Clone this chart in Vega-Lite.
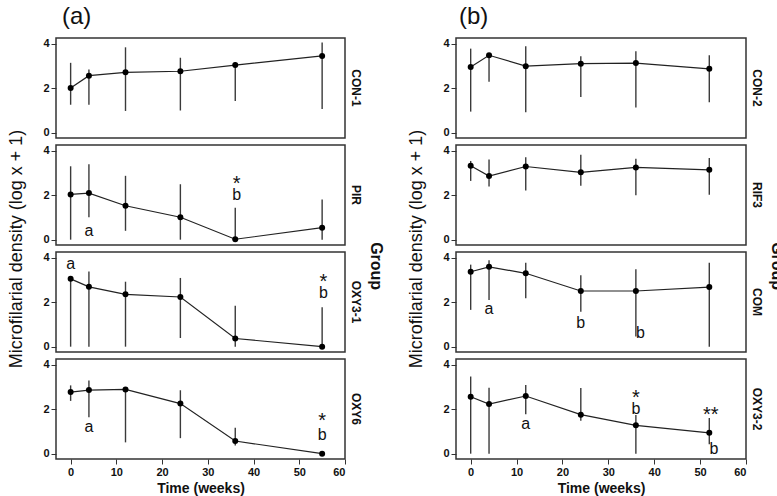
{
  "$schema": "https://vega.github.io/schema/vega-lite/v6.json",
  "background": "white",
  "padding": {"left": 7, "right": 0, "top": 5, "bottom": 2},
  "config": {
    "font": "Liberation Sans",
    "view": {"stroke": "#333333", "strokeWidth": 1.5},
    "axis": {
      "grid": false,
      "domain": false,
      "labelFont": "Liberation Sans",
      "labelFontWeight": "bold",
      "labelFontSize": 11,
      "labelColor": "#111111",
      "tickColor": "#333333",
      "tickSize": 5,
      "labelPadding": 2,
      "titleFont": "Liberation Sans",
      "titleFontWeight": "bold",
      "titleFontSize": 14,
      "titleColor": "#111111",
      "titlePadding": 4
    },
    "header": {
      "labelFont": "Liberation Sans",
      "labelFontWeight": "bold",
      "labelFontSize": 12,
      "labelColor": "#111111",
      "titleFont": "Liberation Sans",
      "titleFontWeight": "normal",
      "titleFontSize": 18,
      "titleColor": "#111111"
    },
    "title": {"font": "Liberation Sans", "color": "#111111"}
  },
  "datasets": {
    "a": [
      {"g": "CON-1", "t": 0, "m": 2.01, "lo": 1.26, "hi": 3.15},
      {"g": "CON-1", "t": 4, "m": 2.57, "lo": 1.26, "hi": 2.85},
      {"g": "CON-1", "t": 12, "m": 2.72, "lo": 0.98, "hi": 3.85},
      {"g": "CON-1", "t": 24, "m": 2.77, "lo": 1.0, "hi": 3.38},
      {"g": "CON-1", "t": 36, "m": 3.05, "lo": 1.43, "hi": 3.18},
      {"g": "CON-1", "t": 55, "m": 3.46, "lo": 1.07, "hi": 4.07},
      {"g": "PIR", "t": 0, "m": 2.04, "lo": 0, "hi": 3.31},
      {"g": "PIR", "t": 4, "m": 2.10, "lo": 1.01, "hi": 3.40},
      {"g": "PIR", "t": 12, "m": 1.53, "lo": 0.40, "hi": 2.88},
      {"g": "PIR", "t": 24, "m": 1.01, "lo": 0, "hi": 2.50},
      {"g": "PIR", "t": 36, "m": 0.02, "lo": 0, "hi": 1.44},
      {"g": "PIR", "t": 55, "m": 0.54, "lo": 0, "hi": 1.81},
      {"g": "OXY3-1", "t": 0, "m": 3.06, "lo": 0, "hi": 3.06},
      {"g": "OXY3-1", "t": 4, "m": 2.70, "lo": 0, "hi": 3.39},
      {"g": "OXY3-1", "t": 12, "m": 2.36, "lo": 0, "hi": 2.93},
      {"g": "OXY3-1", "t": 24, "m": 2.24, "lo": 0.39, "hi": 3.10},
      {"g": "OXY3-1", "t": 36, "m": 0.37, "lo": 0, "hi": 1.85},
      {"g": "OXY3-1", "t": 55, "m": 0.0, "lo": 0, "hi": 1.78},
      {"g": "OXY6", "t": 0, "m": 2.78, "lo": 2.38, "hi": 3.08},
      {"g": "OXY6", "t": 4, "m": 2.87, "lo": 1.64, "hi": 3.30},
      {"g": "OXY6", "t": 12, "m": 2.90, "lo": 0.51, "hi": 2.90},
      {"g": "OXY6", "t": 24, "m": 2.26, "lo": 0.70, "hi": 2.86},
      {"g": "OXY6", "t": 36, "m": 0.57, "lo": 0.37, "hi": 1.17},
      {"g": "OXY6", "t": 55, "m": 0.0, "lo": 0, "hi": 0},
      {"g": "PIR", "t": 4, "ty": 0.4, "label": "a"},
      {"g": "PIR", "t": 36.3, "ty": 2.55, "label": "*"},
      {"g": "PIR", "t": 36.3, "ty": 2.0, "label": "b"},
      {"g": "OXY3-1", "t": 0, "ty": 3.75, "label": "a"},
      {"g": "OXY3-1", "t": 55.3, "ty": 2.95, "label": "*"},
      {"g": "OXY3-1", "t": 55.3, "ty": 2.4, "label": "b"},
      {"g": "OXY6", "t": 4, "ty": 1.22, "label": "a"},
      {"g": "OXY6", "t": 55, "ty": 1.5, "label": "*"},
      {"g": "OXY6", "t": 55, "ty": 0.82, "label": "b"}
    ],
    "b": [
      {"g": "CON-2", "t": 0, "m": 2.96, "lo": 0.95, "hi": 3.79},
      {"g": "CON-2", "t": 4, "m": 3.49, "lo": 2.30, "hi": 3.49},
      {"g": "CON-2", "t": 12, "m": 3.00, "lo": 0.92, "hi": 3.90},
      {"g": "CON-2", "t": 24, "m": 3.11, "lo": 1.61, "hi": 3.45},
      {"g": "CON-2", "t": 36, "m": 3.14, "lo": 1.13, "hi": 3.67},
      {"g": "CON-2", "t": 52, "m": 2.88, "lo": 1.37, "hi": 3.49},
      {"g": "RIF3", "t": 0, "m": 3.33, "lo": 2.65, "hi": 3.55},
      {"g": "RIF3", "t": 4, "m": 2.87, "lo": 2.40, "hi": 3.62},
      {"g": "RIF3", "t": 12, "m": 3.30, "lo": 2.22, "hi": 3.72},
      {"g": "RIF3", "t": 24, "m": 3.04, "lo": 2.43, "hi": 3.83},
      {"g": "RIF3", "t": 36, "m": 3.26, "lo": 2.0, "hi": 3.65},
      {"g": "RIF3", "t": 52, "m": 3.15, "lo": 2.03, "hi": 3.68},
      {"g": "COM", "t": 0, "m": 3.38, "lo": 1.66, "hi": 3.70},
      {"g": "COM", "t": 4, "m": 3.60, "lo": 2.10, "hi": 3.90},
      {"g": "COM", "t": 12, "m": 3.31, "lo": 2.18, "hi": 3.79},
      {"g": "COM", "t": 24, "m": 2.51, "lo": 1.58, "hi": 3.22},
      {"g": "COM", "t": 36, "m": 2.51, "lo": 0.46, "hi": 3.49},
      {"g": "COM", "t": 52, "m": 2.69, "lo": 0, "hi": 3.79},
      {"g": "OXY3-2", "t": 0, "m": 2.57, "lo": 0, "hi": 3.48},
      {"g": "OXY3-2", "t": 4, "m": 2.24, "lo": 0, "hi": 2.97},
      {"g": "OXY3-2", "t": 12, "m": 2.60, "lo": 1.78, "hi": 3.10},
      {"g": "OXY3-2", "t": 24, "m": 1.76, "lo": 1.48, "hi": 2.96},
      {"g": "OXY3-2", "t": 36, "m": 1.28, "lo": 0, "hi": 1.75},
      {"g": "OXY3-2", "t": 52, "m": 0.94, "lo": 0.42, "hi": 1.61},
      {"g": "COM", "t": 4, "ty": 1.7, "label": "a"},
      {"g": "COM", "t": 24, "ty": 1.06, "label": "b"},
      {"g": "COM", "t": 37, "ty": 0.61, "label": "b"},
      {"g": "OXY3-2", "t": 12, "ty": 1.36, "label": "a"},
      {"g": "OXY3-2", "t": 36, "ty": 2.55, "label": "*"},
      {"g": "OXY3-2", "t": 36, "ty": 2.0, "label": "b"},
      {"g": "OXY3-2", "t": 52.3, "ty": 1.8, "label": "**"},
      {"g": "OXY3-2", "t": 53, "ty": 0.21, "label": "b"}
    ]
  },
  "spacing": 23,
  "hconcat": [
    {
      "title": {"text": "(a)", "anchor": "start", "fontSize": 24, "fontWeight": "normal", "dx": 54, "offset": 8},
      "vconcat": [
        {
          "data": {"name": "a"},
          "bounds": "flush",
          "title": {"text": "Group", "orient": "right", "anchor": "middle", "fontSize": 16, "fontWeight": "bold", "offset": 6},
          "facet": {
            "row": {
              "field": "g", "type": "nominal",
              "sort": ["CON-1", "PIR", "OXY3-1", "OXY6"],
              "title": "Microfilarial density (log x + 1)",
              "header": {"labelOrient": "right", "labelAngle": 90, "labelPadding": 4, "titleOrient": "left", "titleAngle": 270, "titlePadding": -12}
            }
          },
          "spacing": {"row": 7},
          "spec": {
            "width": 289,
            "height": 100,
            "encoding": {
              "x": {"field": "t", "type": "quantitative", "scale": {"domain": [-3.2, 60], "nice": false, "zero": false}, "axis": {"title": "Time (weeks)", "values": [0, 10, 20, 30, 40, 50, 60]}}
            },
            "layer": [
              {
                "transform": [{"filter": {"field": "m", "valid": true}}],
                "mark": {"type": "rule", "color": "#3a3a3a", "strokeWidth": 1.4},
                "encoding": {
                  "y": {"field": "lo", "type": "quantitative", "scale": {"domain": [-0.24, 4.27], "nice": false}, "axis": {"title": null, "values": [0, 2, 4]}},
                  "y2": {"field": "hi"}
                }
              },
              {
                "transform": [{"filter": {"field": "m", "valid": true}}],
                "mark": {"type": "line", "color": "#222222", "strokeWidth": 1.2},
                "encoding": {"y": {"field": "m", "type": "quantitative"}}
              },
              {
                "transform": [{"filter": {"field": "m", "valid": true}}],
                "mark": {"type": "point", "filled": true, "color": "#000000", "size": 36, "opacity": 1},
                "encoding": {"y": {"field": "m", "type": "quantitative"}}
              },
              {
                "transform": [{"filter": {"field": "label", "oneOf": ["a", "b"]}}],
                "mark": {"type": "text", "fontSize": 16, "color": "#111111", "align": "center", "baseline": "middle"},
                "encoding": {"y": {"field": "ty", "type": "quantitative"}, "text": {"field": "label"}}
              },
              {
                "transform": [{"filter": {"field": "label", "oneOf": ["*", "**"]}}],
                "mark": {"type": "text", "fontSize": 20, "color": "#111111", "align": "center", "baseline": "middle", "dy": 1},
                "encoding": {"y": {"field": "ty", "type": "quantitative"}, "text": {"field": "label"}}
              }
            ]
          }
        }
      ]
    },
    {
      "title": {"text": "(b)", "anchor": "start", "fontSize": 24, "fontWeight": "normal", "dx": 51, "offset": 8},
      "vconcat": [
        {
          "data": {"name": "b"},
          "bounds": "flush",
          "title": {"text": "Group", "orient": "right", "anchor": "middle", "fontSize": 16, "fontWeight": "bold", "offset": 6},
          "facet": {
            "row": {
              "field": "g", "type": "nominal",
              "sort": ["CON-2", "RIF3", "COM", "OXY3-2"],
              "title": "Microfilarial density (log x + 1)",
              "header": {"labelOrient": "right", "labelAngle": 90, "labelPadding": 4, "titleOrient": "left", "titleAngle": 270, "titlePadding": -12}
            }
          },
          "spacing": {"row": 7},
          "spec": {
            "width": 290,
            "height": 100,
            "encoding": {
              "x": {"field": "t", "type": "quantitative", "scale": {"domain": [-3.2, 60], "nice": false, "zero": false}, "axis": {"title": "Time (weeks)", "values": [0, 10, 20, 30, 40, 50, 60]}}
            },
            "layer": [
              {
                "transform": [{"filter": {"field": "m", "valid": true}}],
                "mark": {"type": "rule", "color": "#3a3a3a", "strokeWidth": 1.4},
                "encoding": {
                  "y": {"field": "lo", "type": "quantitative", "scale": {"domain": [-0.24, 4.27], "nice": false}, "axis": {"title": null, "values": [0, 1, 2, 3, 4]}},
                  "y2": {"field": "hi"}
                }
              },
              {
                "transform": [{"filter": {"field": "m", "valid": true}}],
                "mark": {"type": "line", "color": "#222222", "strokeWidth": 1.2},
                "encoding": {"y": {"field": "m", "type": "quantitative"}}
              },
              {
                "transform": [{"filter": {"field": "m", "valid": true}}],
                "mark": {"type": "point", "filled": true, "color": "#000000", "size": 36, "opacity": 1},
                "encoding": {"y": {"field": "m", "type": "quantitative"}}
              },
              {
                "transform": [{"filter": {"field": "label", "oneOf": ["a", "b"]}}],
                "mark": {"type": "text", "fontSize": 16, "color": "#111111", "align": "center", "baseline": "middle"},
                "encoding": {"y": {"field": "ty", "type": "quantitative"}, "text": {"field": "label"}}
              },
              {
                "transform": [{"filter": {"field": "label", "oneOf": ["*", "**"]}}],
                "mark": {"type": "text", "fontSize": 20, "color": "#111111", "align": "center", "baseline": "middle", "dy": 1},
                "encoding": {"y": {"field": "ty", "type": "quantitative"}, "text": {"field": "label"}}
              }
            ]
          }
        }
      ]
    }
  ]
}
